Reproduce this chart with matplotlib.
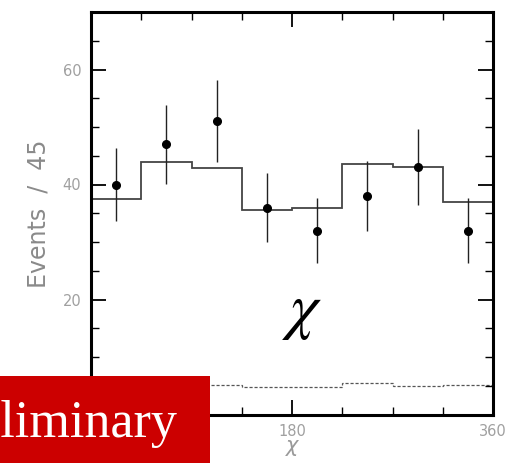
import matplotlib
matplotlib.use("Agg")
import matplotlib.pyplot as plt
import numpy as np
from matplotlib.ticker import MultipleLocator
from matplotlib.patches import Rectangle

# Data
bin_edges = [0, 45, 90, 135, 180, 225, 270, 315, 360]
data_x = [22.5, 67.5, 112.5, 157.5, 202.5, 247.5, 292.5, 337.5]
data_y = [40, 47, 51, 36, 32, 38, 43, 32]
data_err = [6.3, 6.9, 7.1, 6.0, 5.7, 6.1, 6.6, 5.7]
fit_vals = [37.4, 43.9, 42.9, 35.5, 36.0, 43.5, 43.1, 37.0]
bkg_vals = [5.1, 5.1, 5.1, 4.8, 4.85, 5.4, 4.95, 5.2]

W, H = 507, 463
fig = plt.figure(figsize=(W / 100, H / 100), dpi=100)
ax = fig.add_axes([91 / W, 1 - 414.5 / H, (493 - 91) / W, (414.5 - 12) / H])

ax.stairs(fit_vals, bin_edges, color="#444444", lw=1.3)
ax.stairs(bkg_vals, bin_edges, color="#555555", lw=0.9, ls=(0, (2.5, 1.5)))
ax.errorbar(data_x, data_y, yerr=data_err, fmt="o", color="black", ms=5.5,
            ecolor="#222222", elinewidth=1.0, capsize=0)

ax.set_xlim(0, 360)
ax.set_ylim(0, 70)
ax.xaxis.set_major_locator(MultipleLocator(180))
ax.xaxis.set_minor_locator(MultipleLocator(45))
ax.yaxis.set_major_locator(MultipleLocator(20))
ax.yaxis.set_minor_locator(MultipleLocator(5))
ax.tick_params(which="both", direction="in", top=True, right=True,
               labelcolor="#a0a0a0", labelsize=10.5, color="black")
ax.tick_params(which="major", length=11, width=1.3, pad=7)
ax.tick_params(which="minor", length=6, width=1.0)
for s in ax.spines.values():
    s.set_linewidth(2.2)

ax.set_ylabel("Events  /  45", color="#8a8a8a", fontsize=17, labelpad=9)
ax.set_xlabel("χ", color="#9a9a9a", fontsize=15, style="italic", labelpad=-2)

ax.text(189, 18.0, r"$\chi$", fontsize=46, math_fontfamily="stix",
        ha="center", va="center", color="black")

# red preliminary box
fig.patches.append(Rectangle((0, 0), 210 / W, (463 - 376) / H, transform=fig.transFigure,
                             facecolor="#cc0000", edgecolor="none", zorder=10))
fig.text(177 / W, 1 - 437 / H, "Preliminary", fontsize=37.5, family="Liberation Serif",
         color="white", ha="right", va="baseline", zorder=11)

fig.savefig("out.png", dpi=100, facecolor="white")
